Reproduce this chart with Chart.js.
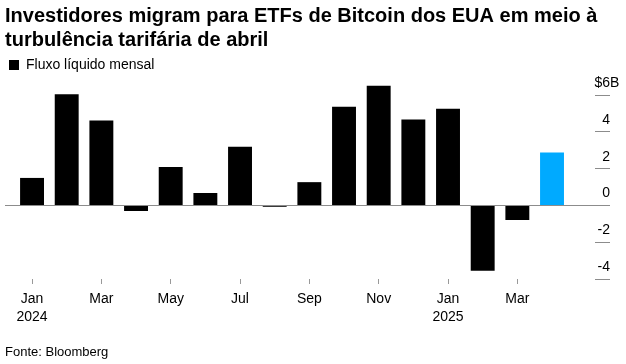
<!DOCTYPE html>
<html>
<head>
<meta charset="utf-8">
<script src="https://cdn.jsdelivr.net/npm/chart.js@4.4.1/dist/chart.umd.min.js"></script>
<style>
  html, body { margin: 0; padding: 0; background: #fff; }
</style>
</head>
<body>
<canvas id="chart" width="626" height="364"></canvas>
<script>
// monthly net flows into US spot bitcoin ETFs, $B (Jan 2024 - Apr 2025)
const months = ['Jan', 'Feb', 'Mar', 'Apr', 'May', 'Jun', 'Jul', 'Aug', 'Sep', 'Oct', 'Nov', 'Dec', 'Jan', 'Feb', 'Mar', 'Apr'];
const years = ['2024', '', '', '', '', '', '', '', '', '', '', '', '2025', '', '', ''];
const netFlows = [1.5, 6.05, 4.62, -0.3, 2.1, 0.68, 3.2, -0.07, 1.27, 5.37, 6.52, 4.68, 5.27, -3.55, -0.79, 2.89];
const xTicks = [0, 2, 4, 6, 8, 10, 12, 14];
const yTicks = [-4, -2, 0, 2, 4, 6];

Chart.defaults.font.family = "'Liberation Sans', Arial, sans-serif";
Chart.defaults.color = '#000';

const ctx = document.getElementById('chart');

// the "B" of "$6B" hangs past the right-aligned numbers
const unitSuffix = {
    id: 'unitSuffix',
    afterDraw(chart) {
        const s = chart.scales.y;
        const c = chart.ctx;
        c.save();
        c.font = "14px 'Liberation Sans', Arial, sans-serif";
        c.fillStyle = '#000';
        c.textAlign = 'left';
        c.textBaseline = 'middle';
        c.fillText('B', s.right, s.getPixelForValue(6) - 12);
        c.restore();
    }
};

new Chart(ctx, {
    type: 'bar',
    data: {
        datasets: [{
            label: 'Fluxo líquido mensal',
            data: netFlows.map((v, i) => ({ x: i, y: v })),
            backgroundColor: c => c.dataIndex === netFlows.length - 1 ? '#00aaff' : '#000',
            borderWidth: 0,
            barPercentage: 0.69,
            categoryPercentage: 1
        }]
    },
    options: {
        responsive: false,
        animation: false,
        layout: { padding: { left: 5, right: 16, top: 4, bottom: 2 } },
        plugins: {
            title: {
                display: true,
                align: 'start',
                text: ['Investidores migram para ETFs de Bitcoin dos EUA em meio à', 'turbulência tarifária de abril'],
                font: { size: 20, weight: 'bold', lineHeight: 1.2 },
                color: '#000',
                padding: { top: 0, bottom: 2 }
            },
            legend: {
                display: true,
                position: 'top',
                align: 'start',
                labels: {
                    boxWidth: 10,
                    boxHeight: 10,
                    padding: 4,
                    font: { size: 14 },
                    color: '#000'
                }
            },
            subtitle: {
                display: true,
                position: 'bottom',
                align: 'start',
                text: 'Fonte: Bloomberg',
                font: { size: 13 },
                color: '#000',
                padding: { top: 12, bottom: 2 }
            },
            tooltip: { enabled: false }
        },
        scales: {
            x: {
                type: 'linear',
                min: -0.78,
                max: 16.24,
                offset: false,
                afterBuildTicks: s => { s.ticks = xTicks.map(v => ({ value: v })); },
                grid: {
                    offset: false,
                    drawOnChartArea: false,
                    tickLength: 5,
                    tickColor: '#999'
                },
                border: { display: false },
                ticks: {
                    autoSkip: false,
                    maxRotation: 0,
                    padding: 6,
                    font: { size: 14, lineHeight: 1.3 },
                    color: '#000',
                    callback: v => years[v] ? [months[v], years[v]] : months[v]
                }
            },
            y: {
                position: 'right',
                min: -4,
                max: 6.72,
                z: 1,
                afterBuildTicks: s => { s.ticks = yTicks.map(v => ({ value: v })); },
                afterFit: s => { s.width = 15; },
                grid: {
                    color: c => (c.tick && c.tick.value === 0) ? '#8c8c8c' : 'rgba(0,0,0,0)',
                    tickColor: '#8c8c8c',
                    tickLength: 15,
                    lineWidth: 1
                },
                border: { display: false },
                ticks: {
                    mirror: true,
                    padding: 15,
                    labelOffset: -12,
                    font: { size: 14 },
                    color: '#000',
                    callback: v => v === 6 ? '$6' : String(v)
                }
            }
        }
    },
    plugins: [unitSuffix]
});
</script>
</body>
</html>
